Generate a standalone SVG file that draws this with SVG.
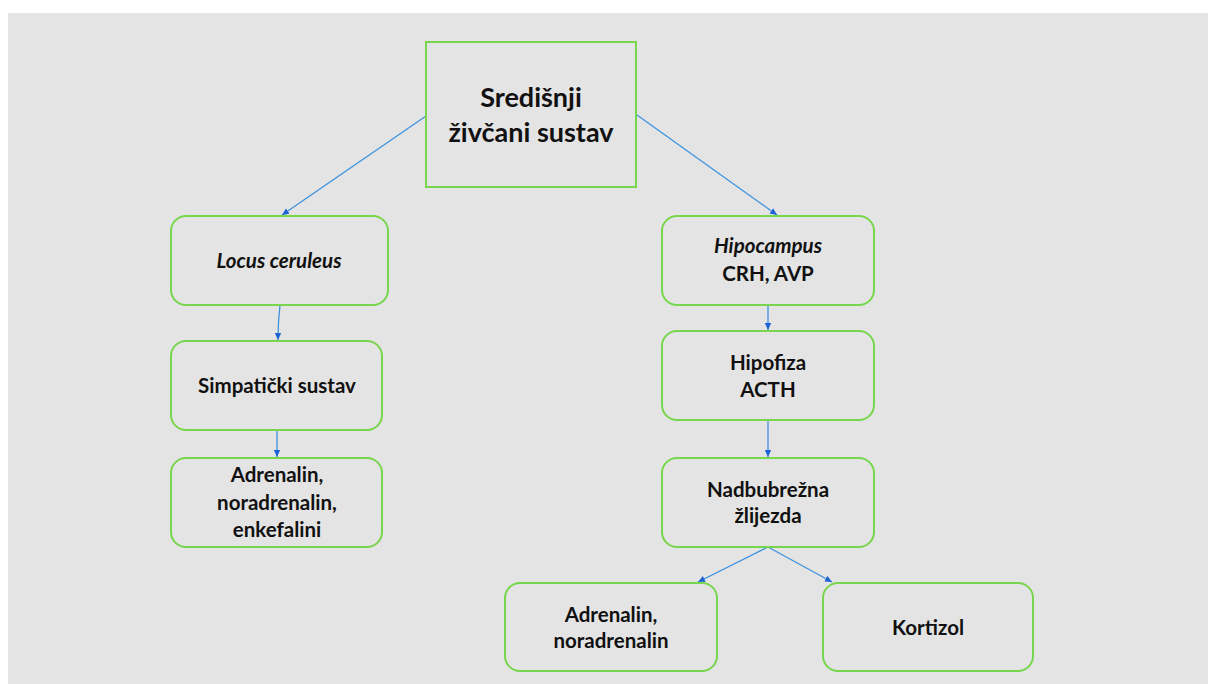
<svg xmlns="http://www.w3.org/2000/svg" width="1208" height="684" viewBox="0 0 1208 684">
<defs>
<style>
.box{fill:none;stroke:#77d64b;stroke-width:2}
.t{font-family:Lato,"Open Sans","Liberation Sans",sans-serif;font-weight:bold;font-size:20.5px;fill:#111;text-anchor:middle}
.title{font-size:27px}
.i{font-style:italic}
.c{fill:none;stroke:#3d92e0;stroke-width:1.3}
</style>
<marker id="ah" markerWidth="8" markerHeight="8" refX="7" refY="4" orient="auto" markerUnits="userSpaceOnUse">
<path d="M0,0.8 L7,4 L0,7.2 Z" fill="#1e63d6"/>
</marker>
</defs>
<rect x="0" y="0" width="1208" height="684" fill="#ffffff"/>
<rect x="8" y="13" width="1200" height="671" fill="#e4e4e4"/>
<g id="connectors">
<line class="c" x1="426" y1="116" x2="282" y2="215" marker-end="url(#ah)"/>
<line class="c" x1="637" y1="115" x2="777" y2="215" marker-end="url(#ah)"/>
<path class="c" d="M280,305 Q278,322 278,340" marker-end="url(#ah)"/>
<line class="c" x1="277" y1="430" x2="277" y2="457" marker-end="url(#ah)"/>
<line class="c" x1="768" y1="305" x2="768" y2="330" marker-end="url(#ah)"/>
<line class="c" x1="768" y1="420" x2="768" y2="457" marker-end="url(#ah)"/>
<line class="c" x1="768" y1="547" x2="698" y2="582" marker-end="url(#ah)"/>
<line class="c" x1="768" y1="547" x2="832" y2="582" marker-end="url(#ah)"/>
</g>
<g id="n-sredisnji">
<rect class="box" x="426" y="42" width="210" height="145"/>
<text class="t title" x="531" y="107">Središnji</text>
<text class="t title" x="531" y="142">živčani sustav</text>
</g>
<g id="n-locus">
<rect class="box" x="171" y="216" width="217" height="89" rx="15"/>
<text class="t i" x="279" y="268">Locus ceruleus</text>
</g>
<g id="n-simpaticki">
<rect class="box" x="171" y="341" width="211" height="89" rx="15"/>
<text class="t" x="277" y="393">Simpatički sustav</text>
</g>
<g id="n-adrenalin-left">
<rect class="box" x="171" y="458" width="211" height="89" rx="15"/>
<text class="t" x="277" y="482">Adrenalin,</text>
<text class="t" x="277" y="510">noradrenalin,</text>
<text class="t" x="277" y="537">enkefalini</text>
</g>
<g id="n-hipocampus">
<rect class="box" x="662" y="216" width="212" height="89" rx="15"/>
<text class="t i" x="768" y="253">Hipocampus</text>
<text class="t" x="768" y="281">CRH, AVP</text>
</g>
<g id="n-hipofiza">
<rect class="box" x="662" y="331" width="212" height="89" rx="15"/>
<text class="t" x="768" y="370">Hipofiza</text>
<text class="t" x="768" y="397">ACTH</text>
</g>
<g id="n-nadbubrezna">
<rect class="box" x="662" y="458" width="212" height="89" rx="15"/>
<text class="t" x="768" y="497">Nadbubrežna</text>
<text class="t" x="768" y="523">žlijezda</text>
</g>
<g id="n-adrenalin-bottom">
<rect class="box" x="505" y="583" width="212" height="88" rx="15"/>
<text class="t" x="611" y="622">Adrenalin,</text>
<text class="t" x="611" y="648">noradrenalin</text>
</g>
<g id="n-kortizol">
<rect class="box" x="823" y="583" width="210" height="88" rx="15"/>
<text class="t" x="928" y="635">Kortizol</text>
</g>
</svg>
